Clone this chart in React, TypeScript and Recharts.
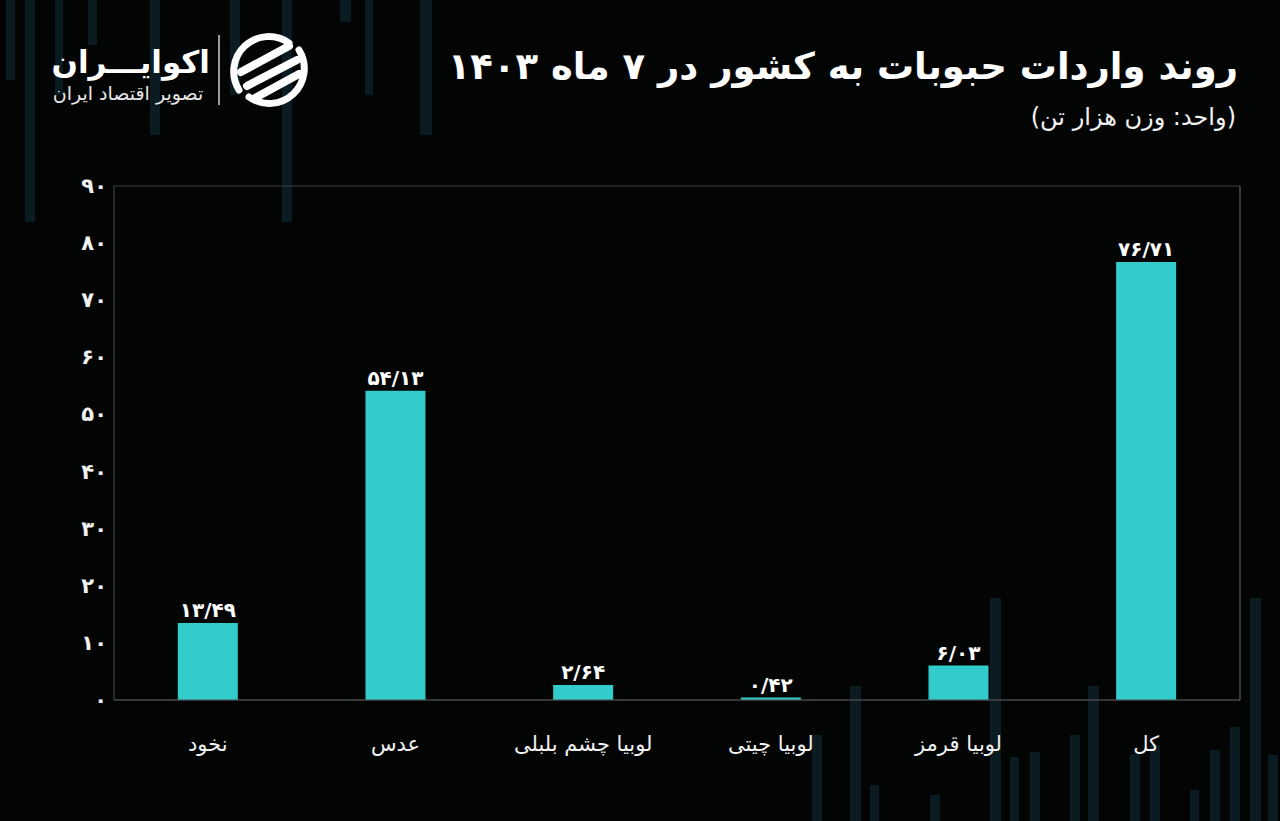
import React from "react";
import { BarChart, Bar, XAxis, YAxis, CartesianGrid, LabelList } from "recharts";

const categories = ["نخود", "عدس", "لوبیا چشم بلبلی", "لوبیا چیتی", "لوبیا قرمز", "کل"];
const values = [13.49, 54.13, 2.64, 0.42, 6.03, 76.71];
const yTicks = [0, 10, 20, 30, 40, 50, 60, 70, 80, 90];
const titleText = "روند واردات حبوبات به کشور در ۷ ماه ۱۴۰۳";
const subtitleText = "(واحد: وزن هزار تن)";
const brandName = "اکوایـــران";
const brandSub = "تصویر اقتصاد ایران";

const data = categories.map((c, i) => ({ name: c, value: values[i] }));

const FA = "۰۱۲۳۴۵۶۷۸۹";
const toFa = (s: string) => s.replace(/[0-9]/g, (d) => FA[+d]).replace(/\./g, "/");
const fmtVal = (v: any) => toFa(Number(v).toFixed(2));

const FONT = "'DejaVu Sans', 'Noto Sans', sans-serif";

// decorative background stripes [x, y, w, h]
const bgTop = [
  [6, 0, 9, 80], [25, 0, 10, 222], [55, 0, 8, 95], [88, 0, 9, 45], [150, 0, 10, 135],
  [230, 0, 10, 95], [282, 0, 10, 222], [340, 0, 11, 22], [365, 0, 8, 95], [420, 0, 12, 135],
];
const bgBottom = [
  [812, 735, 10, 86], [850, 686, 11, 135], [870, 785, 9, 36], [930, 795, 10, 26], [990, 598, 11, 223],
  [1010, 757, 9, 64], [1030, 752, 10, 69], [1070, 735, 10, 86], [1088, 686, 11, 135], [1130, 754, 10, 67],
  [1150, 745, 10, 76], [1190, 790, 9, 31], [1210, 750, 10, 71], [1230, 727, 10, 94], [1250, 598, 11, 223],
  [1268, 755, 10, 66],
];

const XTick = (props: any) => {
  const { x, y, payload } = props;
  return (
    <text x={x} y={y + 43} textAnchor="middle" fill="#f2f2f2" fontSize={21} fontFamily={FONT} direction="rtl">
      {payload.value}
    </text>
  );
};

const YTick = (props: any) => {
  const { x, y, payload } = props;
  return (
    <text x={x + 1} y={y + 7} textAnchor="end" fill="#f2f2f2" fontSize={21} fontWeight={700} fontFamily={FONT}>
      {toFa(String(payload.value))}
    </text>
  );
};

export default function App() {
  return (
    <div style={{ position: "absolute", left: 0, top: 0, width: 1280, height: 821, background: "#030505", overflow: "hidden" }}>
      <svg width={1280} height={821} style={{ position: "absolute", left: 0, top: 0 }}>
        {[...bgTop, ...bgBottom].map((r, i) => (
          <rect key={i} x={r[0]} y={r[1]} width={r[2]} height={r[3]} fill="#0a1c21" />
        ))}
        {/* logo */}
        <line x1={219} y1={35} x2={219} y2={105} stroke="#cfcfcf" strokeWidth={1.5} />
        <g transform="translate(269,70)">
          <path d="M -30 20 A 35 35 0 0 1 20 -27" fill="none" stroke="#fff" strokeWidth={7} strokeLinecap="round" />
          <path d="M 30 -20 A 35 35 0 0 1 -20 27" fill="none" stroke="#fff" strokeWidth={7} strokeLinecap="round" />
          <path d="M -28 2 L 20 -24" stroke="#fff" strokeWidth={8} strokeLinecap="round" />
          <path d="M -22 16 L 28 -10" stroke="#fff" strokeWidth={8} strokeLinecap="round" />
          <path d="M -14 28 L 30 4" stroke="#fff" strokeWidth={8} strokeLinecap="round" />
        </g>
      </svg>
      <div style={{ position: "absolute", left: 50, width: 160, top: 40, textAlign: "right", direction: "rtl", fontFamily: FONT, color: "#fff", fontWeight: 700, fontSize: 31, lineHeight: "44px", whiteSpace: "nowrap" }}>
        {brandName}
      </div>
      <div style={{ position: "absolute", left: 48, width: 160, top: 80, textAlign: "center", direction: "rtl", fontFamily: FONT, color: "#e6e6e6", fontSize: 19, lineHeight: "26px", whiteSpace: "nowrap" }}>
        {brandSub}
      </div>
      <div style={{ position: "absolute", right: 42, top: 42, direction: "rtl", fontFamily: FONT, color: "#fff", fontWeight: 700, fontSize: 37, lineHeight: "50px", whiteSpace: "nowrap" }}>
        {titleText}
      </div>
      <div style={{ position: "absolute", right: 44, top: 101, direction: "rtl", fontFamily: FONT, color: "#f2f2f2", fontSize: 24, lineHeight: "32px", whiteSpace: "nowrap" }}>
        {subtitleText}
      </div>
      <div style={{ position: "absolute", left: 0, top: 0 }}>
        <BarChart width={1280} height={821} data={data} margin={{ top: 186, right: 0, bottom: 91, left: 54 }} barCategoryGap="34%">
          <CartesianGrid vertical={false} stroke="#3c3f40" strokeWidth={1} />
          <XAxis dataKey="name" axisLine={{ stroke: "#4a4d4e" }} tickLine={false} tick={<XTick />} height={30} interval={0} />
          <YAxis yAxisId="l" domain={[0, 90]} ticks={yTicks} axisLine={{ stroke: "#4a4d4e" }} tickLine={false} tick={<YTick />} width={60} />
          <YAxis yAxisId="r" orientation="right" domain={[0, 90]} ticks={yTicks} axisLine={{ stroke: "#6a6d6e" }} tickLine={false} tick={false} width={40} />
          <Bar yAxisId="l" dataKey="value" fill="#33cccc" isAnimationActive={false}>
            <LabelList dataKey="value" position="top" formatter={fmtVal} fill="#ffffff" fontSize={20} fontWeight={700} fontFamily={FONT} offset={6} />
          </Bar>
        </BarChart>
      </div>
    </div>
  );
}
